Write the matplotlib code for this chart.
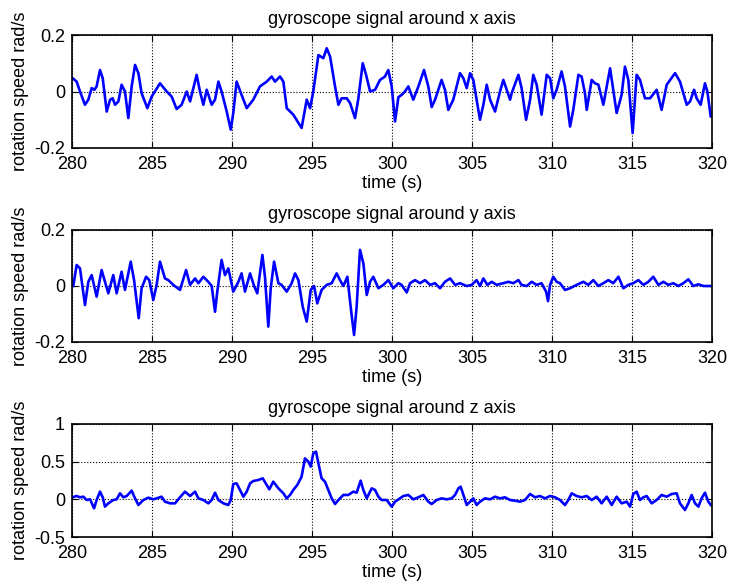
import matplotlib
matplotlib.use("Agg")
import matplotlib.pyplot as plt
import numpy as np

# values (time in s, rate in rad/s)
t_x = [280.04, 280.29, 280.5, 280.81, 281.02, 281.23, 281.4, 281.54, 281.75, 281.92,
       282.17, 282.38, 282.54, 282.69, 282.9, 283.1, 283.31, 283.52, 283.73, 283.94,
       284.15, 284.35, 284.71, 284.98, 285.5, 285.92, 286.23, 286.54, 286.85, 287.17,
       287.38, 287.79, 288.0, 288.21, 288.42, 288.73, 288.94, 289.15, 289.35, 289.67,
       289.92, 290.08, 290.29, 290.6, 290.92, 291.33, 291.75, 292.17, 292.48, 292.69,
       293.0, 293.21, 293.42, 293.83, 294.35, 294.67, 294.88, 295.08, 295.4, 295.71,
       295.92, 296.13, 296.44, 296.65, 296.85, 297.17, 297.38, 297.69, 297.9, 298.17,
       298.38, 298.63, 298.94, 299.25, 299.56, 299.77, 299.98, 300.19, 300.4, 300.6,
       300.81, 301.02, 301.33, 301.65, 302.0, 302.27, 302.48, 302.69, 303.1, 303.31,
       303.52, 303.83, 304.25, 304.46, 304.67, 304.88, 305.08, 305.29, 305.5, 305.71,
       305.92, 306.13, 306.44, 306.75, 306.96, 307.17, 307.38, 307.48, 307.9, 308.1,
       308.38, 308.63, 308.83, 309.04, 309.35, 309.67, 309.88, 310.08, 310.29, 310.6,
       310.81, 311.13, 311.33, 311.65, 311.85, 312.06, 312.17, 312.48, 312.69, 312.9,
       313.21, 313.63, 313.83, 314.04, 314.35, 314.56, 314.77, 315.04, 315.29, 315.5,
       315.81, 316.13, 316.54, 316.85, 317.17, 317.69, 318.0, 318.42, 318.63, 318.88,
       319.04, 319.29, 319.56, 319.71, 319.92]
gyro_x = [0.047, 0.035, 0.0, -0.047, -0.029, 0.012, 0.006, 0.018, 0.076, 0.047,
          -0.071, -0.029, -0.024, -0.047, -0.035, 0.024, 0.0, -0.094, 0.018, 0.094,
          0.065, -0.006, -0.059, -0.018, 0.029, 0.0, -0.018, -0.062, -0.047, 0.0,
          -0.035, 0.059, 0.0, -0.047, 0.006, -0.047, -0.029, 0.035, 0.0, -0.071,
          -0.135, -0.076, 0.035, -0.012, -0.059, -0.029, 0.018, 0.035, 0.053, 0.035,
          0.053, 0.035, -0.059, -0.082, -0.129, -0.029, -0.059, 0.0, 0.129, 0.118,
          0.153, 0.124, 0.018, -0.047, -0.024, -0.024, -0.041, -0.094, -0.024, 0.1,
          0.059, 0.0, 0.006, 0.041, 0.053, 0.076, 0.018, -0.106, -0.02, -0.012,
          0.0, 0.018, -0.029, 0.018, 0.076, 0.018, -0.055, -0.029, 0.041, 0.006,
          -0.065, -0.029, 0.065, 0.047, 0.012, 0.065, 0.041, -0.029, -0.1, -0.047,
          0.024, -0.029, -0.071, 0.0, 0.041, 0.006, -0.029, -0.006, 0.059, 0.012,
          -0.1, -0.029, 0.059, 0.024, -0.082, 0.059, 0.047, -0.024, 0.006, 0.071,
          0.018, -0.124, -0.065, 0.059, 0.053, -0.006, -0.065, 0.041, 0.029, 0.024,
          -0.047, 0.082, 0.006, -0.076, -0.012, 0.088, 0.041, -0.147, 0.059, 0.041,
          -0.024, -0.024, 0.006, -0.065, 0.024, 0.065, 0.035, -0.047, -0.035, 0.006,
          -0.024, -0.047, 0.029, 0.0, -0.088]

t_y = [280.08, 280.29, 280.5, 280.81, 281.02, 281.23, 281.54, 281.85, 282.06, 282.27,
       282.58, 282.79, 283.1, 283.31, 283.67, 283.88, 284.17, 284.35, 284.63, 284.83,
       285.08, 285.29, 285.5, 285.81, 286.02, 286.33, 286.75, 287.13, 287.38, 287.69,
       287.9, 288.21, 288.52, 288.73, 288.94, 289.08, 289.35, 289.56, 289.77, 290.08,
       290.4, 290.6, 290.81, 291.13, 291.38, 291.58, 291.9, 292.06, 292.27, 292.42,
       292.63, 292.9, 293.1, 293.42, 293.73, 293.94, 294.15, 294.42, 294.67, 294.92,
       295.13, 295.33, 295.6, 295.92, 296.23, 296.54, 296.75, 296.96, 297.21, 297.44,
       297.63, 297.79, 298.0, 298.21, 298.42, 298.63, 298.83, 299.15, 299.46, 299.77,
       300.08, 300.4, 300.6, 300.92, 301.13, 301.44, 301.75, 302.06, 302.38, 302.69,
       303.0, 303.31, 303.63, 303.94, 304.25, 304.67, 304.98, 305.29, 305.5, 305.71,
       305.96, 306.23, 306.54, 306.96, 307.27, 307.58, 307.9, 308.1, 308.42, 308.73,
       309.04, 309.35, 309.63, 309.75, 309.88, 310.08, 310.29, 310.5, 310.81, 311.13,
       311.54, 311.96, 312.27, 312.58, 312.9, 313.21, 313.52, 313.83, 314.15, 314.46,
       314.77, 315.08, 315.4, 315.71, 316.02, 316.33, 316.65, 316.96, 317.27, 317.58,
       317.9, 318.21, 318.52, 318.83, 319.15, 319.46, 319.92]
gyro_y = [0.0, 0.075, 0.063, -0.068, 0.015, 0.039, -0.038, 0.057, 0.015, -0.026,
          0.039, -0.026, 0.051, -0.014, 0.087, 0.021, -0.115, -0.008, 0.033, 0.021,
          -0.05, 0.004, 0.087, 0.027, 0.021, 0.004, -0.014, 0.057, 0.004, 0.027,
          0.01, 0.033, 0.015, 0.0, -0.092, -0.02, 0.093, 0.039, 0.063, -0.02,
          0.015, 0.045, -0.02, 0.045, 0.0, -0.026, 0.111, 0.033, -0.145, -0.008,
          0.087, 0.01, 0.004, -0.02, 0.01, 0.045, 0.021, -0.074, -0.127, -0.014,
          0.0, -0.062, -0.014, 0.004, 0.01, 0.045, 0.021, 0.0, 0.033, -0.086,
          -0.175, -0.074, 0.129, 0.081, -0.032, 0.015, 0.033, -0.008, 0.004, 0.021,
          -0.008, 0.01, 0.004, -0.023, 0.01, 0.021, 0.01, 0.021, 0.004, 0.01,
          -0.008, 0.015, 0.027, 0.004, 0.01, 0.0, 0.004, 0.021, 0.0, 0.027,
          0.004, 0.015, 0.004, 0.01, 0.015, 0.01, 0.021, 0.004, 0.0, 0.015,
          0.004, 0.01, -0.02, -0.054, 0.004, 0.033, 0.015, 0.01, -0.014, -0.008,
          0.004, 0.015, 0.004, 0.021, 0.0, 0.01, 0.021, 0.01, 0.033, -0.008,
          0.004, 0.01, 0.021, 0.004, 0.015, 0.033, 0.004, 0.015, 0.004, 0.01,
          0.0, 0.01, 0.024, 0.0, 0.006, 0.0, 0.0]

t_z = [280.04, 280.29, 280.5, 280.71, 280.92, 281.13, 281.38, 281.54, 281.75, 281.92,
       282.06, 282.27, 282.58, 282.79, 283.0, 283.21, 283.42, 283.73, 283.94, 284.15,
       284.46, 284.77, 285.08, 285.29, 285.6, 285.81, 286.13, 286.44, 286.75, 287.06,
       287.38, 287.69, 287.9, 288.21, 288.52, 288.73, 288.94, 289.15, 289.46, 289.77,
       289.92, 290.08, 290.29, 290.5, 290.71, 290.92, 291.13, 291.33, 291.65, 291.92,
       292.17, 292.33, 292.58, 292.9, 293.21, 293.42, 293.63, 293.83, 294.08, 294.35,
       294.56, 294.77, 294.92, 295.08, 295.25, 295.4, 295.6, 295.81, 296.02, 296.23,
       296.44, 296.65, 296.96, 297.27, 297.58, 297.79, 298.04, 298.21, 298.42, 298.73,
       298.94, 299.15, 299.35, 299.67, 299.98, 300.19, 300.4, 300.71, 301.02, 301.33,
       301.65, 301.96, 302.27, 302.48, 302.79, 303.1, 303.42, 303.73, 303.94, 304.15,
       304.29, 304.46, 304.67, 304.88, 305.08, 305.29, 305.5, 305.81, 306.13, 306.44,
       306.75, 307.06, 307.38, 307.69, 308.0, 308.31, 308.63, 308.94, 309.25, 309.56,
       309.88, 310.19, 310.5, 310.81, 311.02, 311.23, 311.54, 311.85, 312.17, 312.48,
       312.79, 313.1, 313.42, 313.73, 314.04, 314.35, 314.67, 314.88, 315.08, 315.29,
       315.5, 315.71, 315.92, 316.23, 316.54, 316.85, 317.17, 317.48, 317.79, 318.0,
       318.31, 318.52, 318.73, 318.94, 319.15, 319.35, 319.56, 319.77, 319.92]
gyro_z = [0.027, 0.044, 0.027, 0.035, -0.009, 0.0, -0.119, -0.009, 0.102, 0.027,
          -0.097, -0.053, -0.009, 0.0, 0.08, 0.027, 0.044, 0.115, 0.013, -0.075,
          -0.009, 0.022, 0.0, 0.013, 0.035, -0.031, -0.053, -0.053, 0.027, 0.102,
          0.044, 0.102, 0.013, -0.009, -0.053, -0.009, 0.088, -0.009, -0.053, -0.075,
          -0.009, 0.204, 0.212, 0.124, 0.035, 0.102, 0.212, 0.243, 0.257, 0.279,
          0.19, 0.133, 0.235, 0.146, 0.08, 0.013, 0.058, 0.124, 0.19, 0.301,
          0.544, 0.5, 0.434, 0.611, 0.633, 0.478, 0.279, 0.235, 0.124, 0.013,
          -0.062, -0.009, 0.058, 0.058, 0.102, 0.088, 0.248, 0.124, 0.013, 0.146,
          0.124, 0.035, -0.009, -0.009, -0.097, -0.031, 0.0, 0.044, 0.058, 0.0,
          0.027, 0.058, -0.031, -0.062, -0.009, 0.013, 0.0, 0.013, 0.058, 0.146,
          0.168, 0.058, -0.075, -0.031, 0.013, -0.075, -0.031, 0.013, 0.0, 0.035,
          0.013, 0.027, -0.009, -0.018, -0.031, -0.009, 0.071, 0.027, 0.044, 0.013,
          0.044, 0.027, -0.009, -0.075, -0.009, 0.08, 0.044, 0.027, 0.044, -0.009,
          0.035, -0.053, 0.035, -0.075, 0.035, -0.053, -0.031, -0.097, 0.071, 0.102,
          -0.009, 0.027, 0.044, -0.053, -0.009, 0.058, 0.035, 0.071, 0.08, -0.053,
          -0.142, -0.053, 0.058, -0.053, -0.097, 0.013, 0.088, -0.031, -0.075]

axis_names = ["x", "y", "z"]
y_ticks = [[-0.2, 0, 0.2], [-0.2, 0, 0.2], [-0.5, 0, 0.5, 1]]
y_tick_labels = [["-0.2", "0", "0.2"], ["-0.2", "0", "0.2"], ["-0.5", "0", "0.5", "1"]]
x_ticks = [280, 285, 290, 295, 300, 305, 310, 315, 320]

plt.rcParams["font.family"] = ["Liberation Sans", "DejaVu Sans"]
plt.rcParams["font.size"] = 13

fig = plt.figure(figsize=(7.31, 5.88), dpi=100)
left, width = 72 / 731, 640 / 731
panels = [(35, 148), (230, 342), (424, 537)]
series = [(t_x, gyro_x), (t_y, gyro_y), (t_z, gyro_z)]

for i, ((top, bot), (t, g)) in enumerate(zip(panels, series)):
    ax = fig.add_axes([left, 1 - bot / 588, width, (bot - top) / 588])
    ax.plot(t, g, color="#0000ff", lw=1.9)
    ax.set_xlim(280, 320)
    ax.set_ylim(y_ticks[i][0], y_ticks[i][-1])
    ax.set_xticks(x_ticks)
    ax.set_yticks(y_ticks[i])
    ax.set_yticklabels(y_tick_labels[i])
    ax.tick_params(direction="in", top=True, right=True, length=4)
    ax.tick_params(axis="x", pad=6)
    ax.tick_params(axis="y", pad=5)
    ax.grid(True, color="black", linestyle=":", linewidth=0.8)
    for s in ax.spines.values():
        s.set_linewidth(1.2)
    ax.set_title(f"gyroscope signal around {axis_names[i]} axis", fontsize=13, pad=8)
    ax.set_xlabel("time (s)", labelpad=1)
    ax.set_ylabel("rotation speed rad/s", labelpad=4)

fig.savefig("out.png", dpi=100)
